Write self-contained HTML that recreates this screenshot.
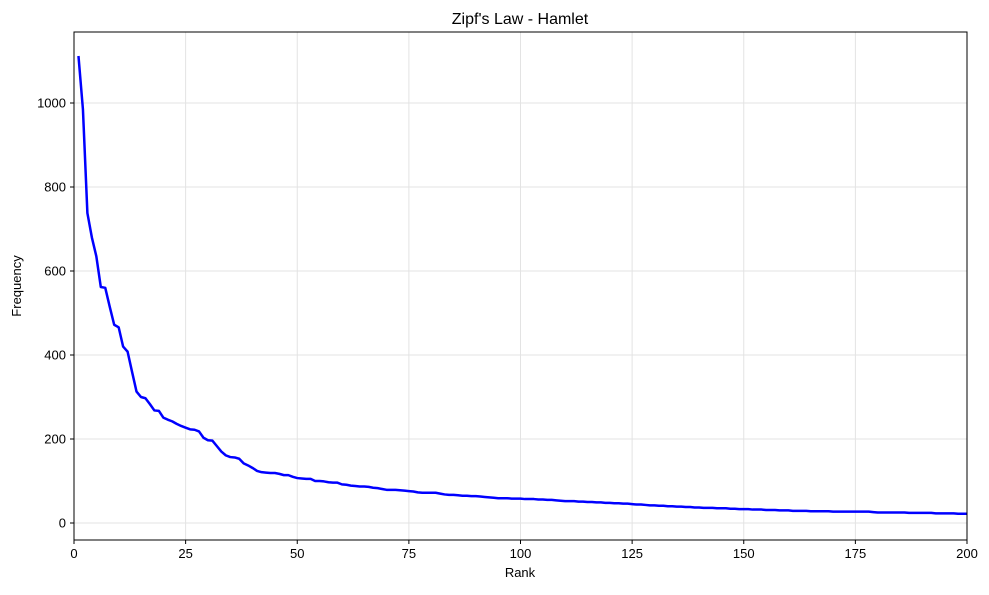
<!DOCTYPE html>
<html><head><meta charset="utf-8"><style>
body{margin:0;background:#fff;}
svg text{font-family:"Liberation Sans","DejaVu Sans",sans-serif;fill:#000;}
</style></head><body>
<svg id="chart" width="989" height="590" xmlns="http://www.w3.org/2000/svg">
<rect width="989" height="590" fill="#fff"/>
<g id="grid"></g>
<g id="ticks"></g>
<path id="line" fill="none" stroke="#0000ff" stroke-width="2.5" stroke-linejoin="round"/>
<rect x="74" y="32" width="893" height="508" fill="none" stroke="#000" stroke-width="1"/>
<text x="520" y="24" font-size="16" text-anchor="middle">Zipf's Law - Hamlet</text>
<text x="520" y="577" font-size="13" text-anchor="middle">Rank</text>
<text x="21" y="286" font-size="13" text-anchor="middle" transform="rotate(-90 21 286)">Frequency</text>
</svg>
<script>
const freqs = [1112,985,738,680,635,562,560,515,472,466,420,408,360,313,300,297,283,268,267,251,246,242,236,231,227,223,222,218,203,197,196,183,170,161,157,156,153,142,137,131,124,121,120,119,119,117,114,114,110,107,106,105,105,100,100,99,97,96,96,92,91,89,88,87,87,86,84,83,81,79,79,79,78,77,76,75,73,72,72,72,72,70,68,67,67,66,65,65,64,64,63,62,61,60,59,59,59,58,58,58,
57,57,57,56,56,55,55,54,53,52,52,52,51,51,50,50,49,49,48,48,47,47,46,46,45,44,44,43,42,42,41,41,40,40,39,39,38,38,37,37,36,36,36,35,35,35,34,34,33,33,33,32,32,32,31,31,31,30,30,30,29,29,29,29,28,28,28,28,28,27,27,27,27,27,27,27,27,27,26,25,25,25,25,25,25,25,24,24,24,24,24,24,23,23,23,23,23,22,22,22];
const xTicks = [0,25,50,75,100,125,150,175,200];
const yTicks = [0,200,400,600,800,1000];
const L=74,R=967,T=32,B=540;
const xs = v => L + (v-0)/(200-0)*(R-L);
const ys = v => 523 - v*0.42;
const NS="http://www.w3.org/2000/svg";
const grid=document.getElementById('grid'), ticks=document.getElementById('ticks');
function mk(tag,attrs,parent){const e=document.createElementNS(NS,tag);for(const k in attrs)e.setAttribute(k,attrs[k]);parent.appendChild(e);return e;}
xTicks.forEach(t=>{
  const x=xs(t);
  const g=mk('line',{x1:x,x2:x,y1:T,y2:B,stroke:'#e3e3e3','stroke-width':1},grid);
  
  
  const tk=mk('line',{x1:x,x2:x,y1:B,y2:B+4,stroke:'#000'},ticks);
  
  
  const lb=mk('text',{x:x,y:B+18,'font-size':13,'text-anchor':'middle'},ticks);
  lb.textContent=t;
  
  
});
yTicks.forEach(t=>{
  const y=ys(t);
  const g=mk('line',{x1:L,x2:R,y1:y,y2:y,stroke:'#e3e3e3','stroke-width':1},grid);
  
  
  const tk=mk('line',{x1:L-4,x2:L,y1:y,y2:y,stroke:'#000'},ticks);
  
  
  const lb=mk('text',{x:L-8,y:y+4.5,'font-size':13,'text-anchor':'end'},ticks);
  lb.textContent=t;
  
  
});
document.getElementById('line').setAttribute('d',freqs.map((v,i)=>(i?'L':'M')+xs(i+1).toFixed(2)+','+ys(v).toFixed(2)).join(''));
</script>
</body></html>
